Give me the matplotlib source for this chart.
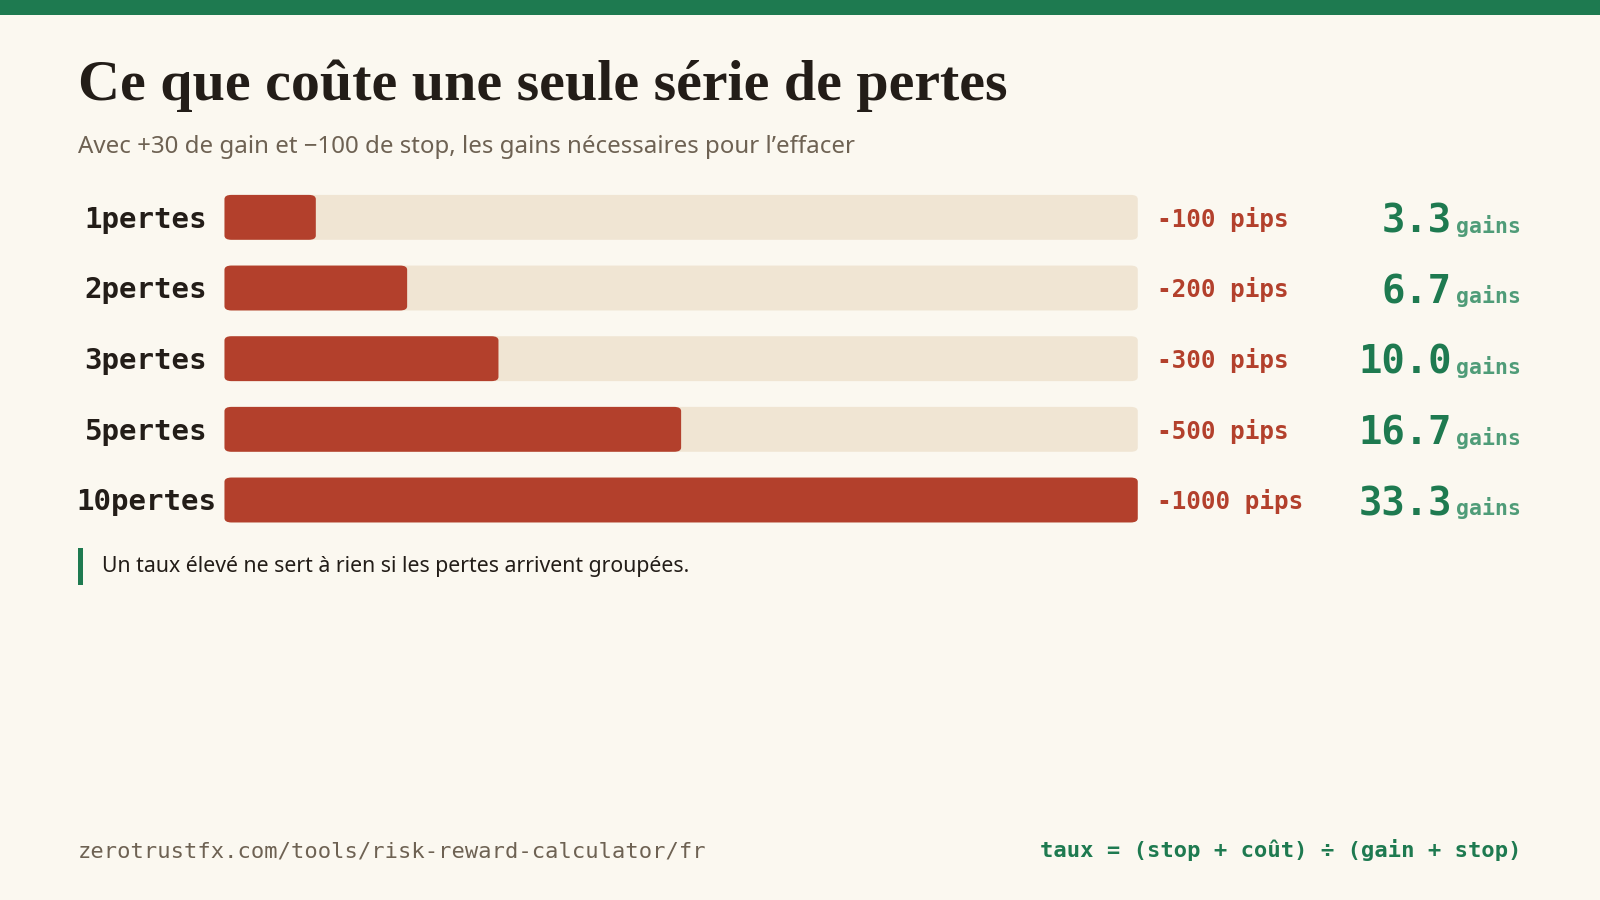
import matplotlib
matplotlib.use("Agg")
from matplotlib import pyplot as plt
from matplotlib.patches import FancyBboxPatch, Rectangle
from matplotlib.transforms import blended_transform_factory

# data
losses = [1, 2, 3, 5, 10]
pips = [-100, -200, -300, -500, -1000]
gains_needed = [3.3, 6.7, 10.0, 16.7, 33.3]
row_labels = [f"{n}pertes" for n in losses]

title = "Ce que coûte une seule série de pertes"
subtitle = "Avec +30 de gain et \u2212100 de stop, les gains nécessaires pour l\u2019effacer"
note = "Un taux élevé ne sert à rien si les pertes arrivent groupées."
source = "zerotrustfx.com/tools/risk-reward-calculator/fr"
formula = "taux = (stop + coût) ÷ (gain + stop)"

BG = "#fbf8f0"
GREEN = "#1e7a50"
LIGHT_GREEN = "#4f9c78"
RED = "#b3402c"
TRACK = "#f0e5d3"
INK = "#231d18"
MUTED = "#6e6253"

MONO = "DejaVu Sans Mono"
SANS = "Noto Sans"
SERIF = "Liberation Serif"

W, H = 1568.0, 882.0  # reference pixel grid
def fx(px):
    return px / W
def fy(py):
    return 1 - py / H

fig = plt.figure(figsize=(16, 9), dpi=100, facecolor=BG)

# top band
fig.patches.append(Rectangle((0, fy(15)), 1, 15 / H, transform=fig.transFigure,
                             facecolor=GREEN, edgecolor="none"))

fig.text(fx(76), fy(98), title, fontsize=41.8, fontweight="bold", family=SERIF,
         color=INK, va="baseline", ha="left")
fig.text(fx(76), fy(150), subtitle, fontsize=17.3, family=SANS, color=MUTED,
         va="baseline", ha="left")

# bars
row_gap = 69.25
top = 213 - row_gap / 2
bottom = 490 + row_gap / 2
ax = fig.add_axes([fx(220), fy(bottom), fx(1115) - fx(220), (bottom - top) / H])
ax.set_xlim(0, max(losses))
ax.set_ylim(len(losses) - 0.5, -0.5)
ax.axis("off")

fig.canvas.draw()
bb = ax.get_window_extent()
px_x = bb.width / max(losses)
px_y = bb.height / len(losses)
aspect = px_x / px_y
r = 7 / px_x
bar_h = 44 / row_gap

for i, n in enumerate(losses):
    track = FancyBboxPatch((0, i - bar_h / 2), max(losses), bar_h,
                           boxstyle=f"round,pad=0,rounding_size={r}",
                           mutation_aspect=1 / aspect, facecolor=TRACK,
                           edgecolor="none")
    ax.add_patch(track)
    bar = FancyBboxPatch((0, i - bar_h / 2), n, bar_h,
                         boxstyle=f"round,pad=0,rounding_size={r}",
                         mutation_aspect=1 / aspect, facecolor=RED,
                         edgecolor="none")
    ax.add_patch(bar)

tr = blended_transform_factory(fig.transFigure, ax.transData)
for i in range(len(losses)):
    ax.text(fx(143), i + 10 / row_gap, row_labels[i], transform=tr, ha="center",
            va="baseline", family=MONO, fontweight="bold", fontsize=21, color=INK)
    ax.text(fx(1134), i + 9 / row_gap, f"{pips[i]} pips", transform=tr, ha="left",
            va="baseline", family=MONO, fontweight="bold", fontsize=17.5, color=RED)
    ax.text(fx(1423), i + 15 / row_gap, f"{gains_needed[i]:.1f}", transform=tr,
            ha="right", va="baseline", family=MONO, fontweight="bold",
            fontsize=28, color=GREEN)
    ax.text(fx(1427), i + 15 / row_gap, "gains", transform=tr, ha="left",
            va="baseline", family=MONO, fontweight="bold", fontsize=15.5,
            color=LIGHT_GREEN)

# note with accent bar
fig.patches.append(Rectangle((fx(76), fy(573)), fx(5), 36 / H,
                             transform=fig.transFigure, facecolor=GREEN,
                             edgecolor="none"))
fig.text(fx(100), fy(561), note, fontsize=15.3, family=SANS, color=INK,
         va="baseline", ha="left")

# footer
fig.text(fx(76), fy(840), source, fontsize=15.9, family=MONO, color=MUTED,
         va="baseline", ha="left")
fig.text(fx(1491), fy(840), formula, fontsize=15.9, family=MONO, fontweight="bold",
         color=GREEN, va="baseline", ha="right")

fig.savefig("out.png", dpi=100, facecolor=BG)
